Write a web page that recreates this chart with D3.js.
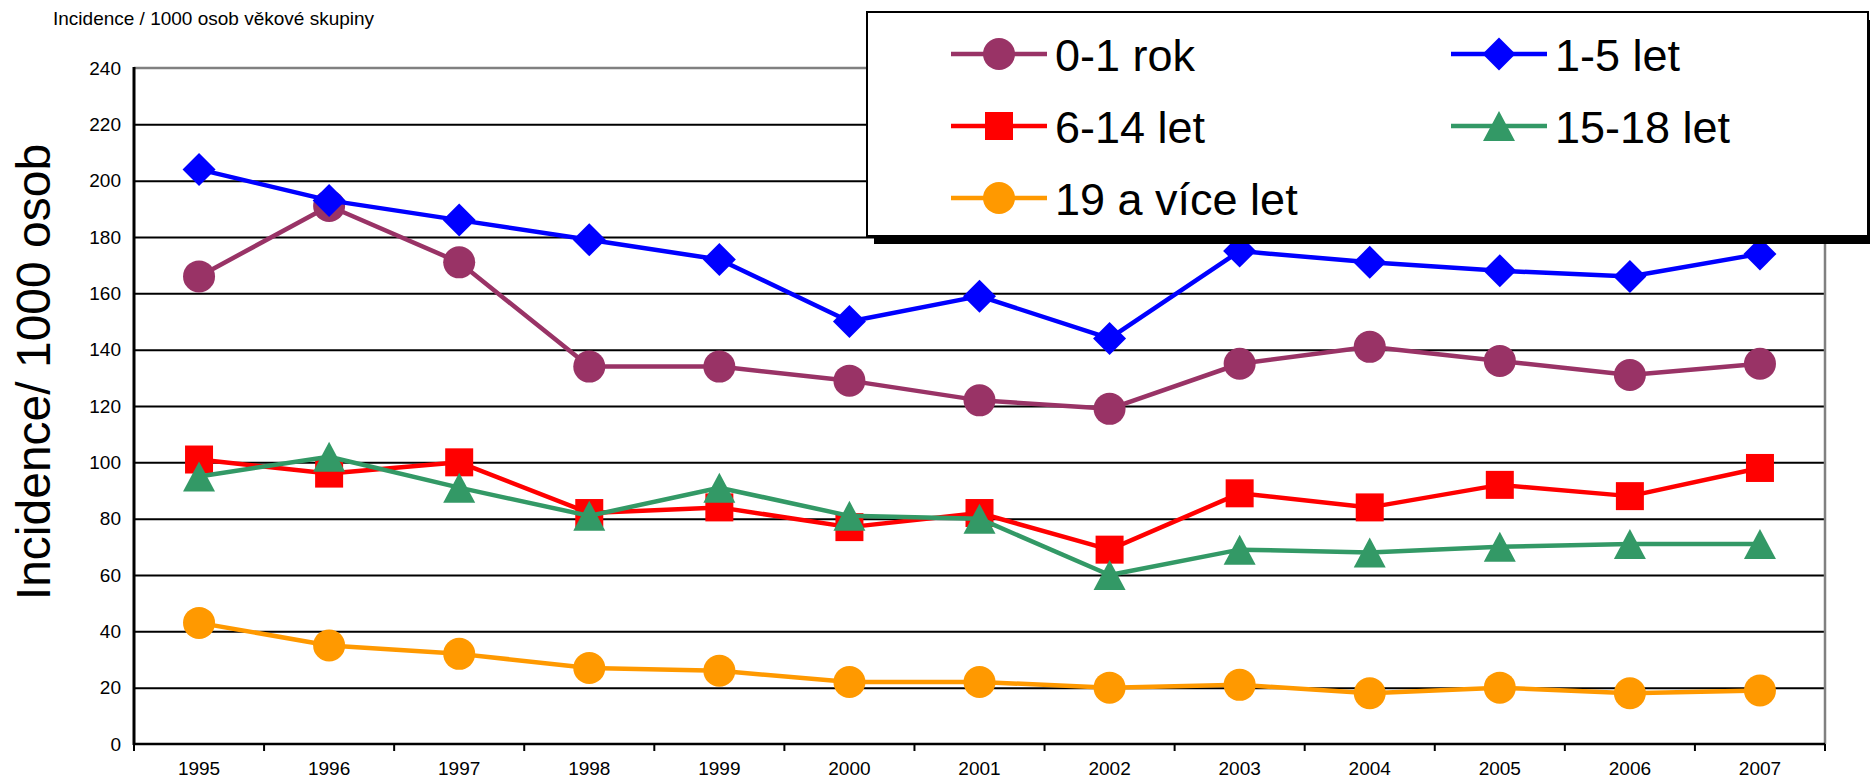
<!DOCTYPE html>
<html>
<head>
<meta charset="utf-8">
<script src="https://cdn.jsdelivr.net/npm/d3@7/dist/d3.min.js"></script>
<style>
  html, body { margin: 0; padding: 0; background: #fff; }
  svg { display: block; font-family: "Liberation Sans", Arial, sans-serif; }
</style>
</head>
<body>
<svg id="chart" width="1870" height="781"></svg>
<script>
// ---- data ----
const years = ["1995","1996","1997","1998","1999","2000","2001","2002","2003","2004","2005","2006","2007"];
const age0_1   = [166, 191, 171, 134, 134, 129, 122, 119, 135, 141, 136, 131, 135];
const age1_5   = [204, 193, 186, 179, 172, 150, 159, 144, 175, 171, 168, 166, 174];
const age6_14  = [101,  96, 100,  82,  84,  77,  82,  69,  89,  84,  92,  88,  98];
const age15_18 = [ 95, 102,  91,  81,  91,  81,  80,  60,  69,  68,  70,  71,  71];
const age19plus= [ 43,  35,  32,  27,  26,  22,  22,  20,  21,  18,  20,  18,  19];
const seriesNames = ["0-1 rok", "1-5 let", "6-14 let", "15-18 let", "19 a více let"];
const yTicks = [0, 20, 40, 60, 80, 100, 120, 140, 160, 180, 200, 220, 240];
const titleText = "Incidence / 1000 osob věkové skupiny";
const yTitleText = "Incidence/ 1000 osob";

const series = [
  { name: seriesNames[0], values: age0_1,    color: "#993366", marker: "circle" },
  { name: seriesNames[1], values: age1_5,    color: "#0000FF", marker: "diamond" },
  { name: seriesNames[2], values: age6_14,   color: "#FF0000", marker: "square" },
  { name: seriesNames[3], values: age15_18,  color: "#339966", marker: "triangle" },
  { name: seriesNames[4], values: age19plus, color: "#FF9900", marker: "circle" }
];

// ---- layout ----
const svg = d3.select("#chart");
const L = 134, R = 1825, T = 68, B = 744;
const x = d3.scaleBand().domain(years).range([L, R]);
const y = d3.scaleLinear().domain([0, 240]).range([B, T]);
const cx = d => x(d) + x.bandwidth() / 2;

function markerPath(type) {
  switch (type) {
    case "circle":  { const r = 16; return `M${-r},0A${r},${r} 0 1,0 ${r},0A${r},${r} 0 1,0 ${-r},0Z`; }
    case "diamond": { const h = 16.5; return `M0,${-h}L${h},0L0,${h}L${-h},0Z`; }
    case "square":  { const s = 14; return `M${-s},${-s}H${s}V${s}H${-s}Z`; }
    case "triangle":{ const w = 16, h = 15; return `M0,${-h}L${w},${h}L${-w},${h}Z`; }
  }
}

// gridlines
svg.append("g")
  .attr("transform", `translate(${L},0)`)
  .call(d3.axisLeft(y).tickValues(yTicks.filter(v => v > 0 && v < 240)).tickSize(-(R - L)).tickFormat(""))
  .call(g => g.select(".domain").remove())
  .call(g => g.selectAll("line").attr("stroke", "#000").attr("stroke-width", 2));

// plot border top/right gray
svg.append("path")
  .attr("d", `M${L},${y(240)}H${R}V${B}`)
  .attr("fill", "none").attr("stroke", "#808080").attr("stroke-width", 2.5);

// y axis labels
svg.append("g")
  .attr("transform", `translate(${L},0)`)
  .call(d3.axisLeft(y).tickValues(yTicks).tickSize(0).tickPadding(13))
  .call(g => g.select(".domain").remove())
  .call(g => g.selectAll("text").attr("font-size", 19).attr("fill", "#000")
      .attr("font-family", "'Liberation Sans', Arial, sans-serif"));

// x axis labels
svg.append("g")
  .attr("transform", `translate(0,${B})`)
  .call(d3.axisBottom(x).tickSize(0).tickPadding(18))
  .call(g => g.select(".domain").remove())
  .call(g => g.selectAll("text").attr("font-size", 19).attr("fill", "#000")
      .attr("font-family", "'Liberation Sans', Arial, sans-serif"));

// x ticks at band boundaries
const bounds = years.map(d => x(d)).concat([R]);
svg.append("g").selectAll("line").data(bounds).join("line")
  .attr("x1", d => d).attr("x2", d => d)
  .attr("y1", B).attr("y2", B + 7)
  .attr("stroke", "#000").attr("stroke-width", 2);

// axes lines
svg.append("line").attr("x1", L).attr("x2", R).attr("y1", B).attr("y2", B)
  .attr("stroke", "#000").attr("stroke-width", 2.5);
svg.append("line").attr("x1", L).attr("x2", L).attr("y1", T - 1).attr("y2", B + 1)
  .attr("stroke", "#000").attr("stroke-width", 3);

// series
const line = d3.line().x((d, i) => cx(years[i])).y(d => y(d));
series.forEach(s => {
  const g = svg.append("g");
  g.append("path").datum(s.values)
    .attr("d", line)
    .attr("fill", "none").attr("stroke", s.color).attr("stroke-width", 4.5)
    .attr("stroke-linejoin", "round");
  g.selectAll("path.m").data(s.values).join("path").attr("class", "m")
    .attr("d", markerPath(s.marker))
    .attr("transform", (d, i) => `translate(${cx(years[i])},${y(d)})`)
    .attr("fill", s.color);
});

// titles
svg.append("text").attr("x", 53).attr("y", 25).attr("font-size", 19).attr("fill", "#000")
  .text(titleText);
svg.append("text").attr("transform", "translate(50,372) rotate(-90)")
  .attr("text-anchor", "middle").attr("font-size", 48).attr("fill", "#000")
  .text(yTitleText);

// legend
const lg = svg.append("g");
const LX = 867, LY = 12, LW = 1001, LH = 224;
lg.append("rect").attr("x", LX + 7).attr("y", LY + 8).attr("width", LW).attr("height", LH).attr("fill", "#000");
lg.append("rect").attr("x", LX).attr("y", LY).attr("width", LW).attr("height", LH)
  .attr("fill", "#fff").attr("stroke", "#000").attr("stroke-width", 2);
const cols = [951, 1451];
const rows = [54, 126, 198];
series.forEach((s, i) => {
  const lx = cols[i % 2], ly = rows[Math.floor(i / 2)];
  lg.append("line").attr("x1", lx).attr("x2", lx + 96).attr("y1", ly).attr("y2", ly)
    .attr("stroke", s.color).attr("stroke-width", 4.5);
  lg.append("path").attr("d", markerPath(s.marker))
    .attr("transform", `translate(${lx + 48},${ly})`).attr("fill", s.color);
  lg.append("text").attr("x", lx + 104).attr("y", ly + 16.5)
    .attr("font-size", 45).attr("fill", "#000").text(s.name);
});
</script>
</body>
</html>
